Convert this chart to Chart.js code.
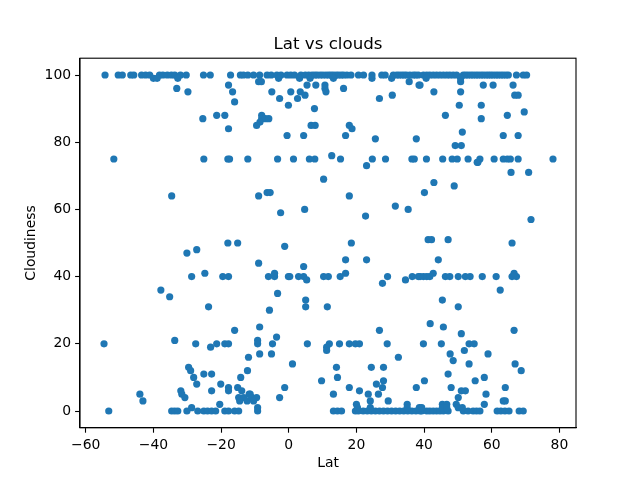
<!DOCTYPE html>
<html>
<head>
<meta charset="utf-8">
<title>Lat vs clouds</title>
<script src="https://cdn.jsdelivr.net/npm/chart.js@4"></script>
<style>
    html, body { margin: 0; padding: 0; background: #fff; }
    canvas { display: block; }
</style>
</head>
<body>
<canvas id="grafico" width="640" height="480"></canvas>
<script>
const xTicks = [-60, -40, -20, 0, 20, 40, 60, 80];
const yTicks = [0, 20, 40, 60, 80, 100];

// latitudes das cidades em cada faixa cheia de nuvens
const lat100 = [-54.3, -50.4, -49.2, -46.7, -45.8, -43.5, -42.3, -41.1, -38.2, -37.2, -35.9, -34.7, -33.7, -32, -30.3, -25.2, -23.2, -17.2, -14.3, -13.4, -12.1,
    -10.4, -8.6, -6.4, -5.2, -3.5, -2.3, -0.5, 0.6, 1.7, 3.6, 4.9, 5.9, 6.9, 7.7, 8.4, 9.3, 10.1, 11, 11.8, 12.5, 13.2, 14, 14.7, 15.5, 16.2, 17.2, 18.4, 20.6, 22.1, 24.6, 27.5, 28.5, 30.9, 31.9, 32.6, 33.4, 34.1, 34.8, 35.8, 36.8, 37.5, 38.3,
    39.8, 40.8, 41.7, 42.7, 43.7, 44.7, 45.7, 46.7, 47.6, 48.6, 49.6, 51.6, 52.3, 53, 53.8, 54.5, 55.3, 56, 56.8, 57.5, 58.3, 59, 59.7, 60.4, 61.2, 61.9, 62.7, 63.4, 64.2, 64.9, 67.3, 69.3, 70.3];
const lat75 = [-51.7, -25.1, -18, -17.5, -12.1, -3.3, 1.4, 6.1, 7.7, 15.3, 24.7, 28.6, 36.4, 37.1,
    40.7, 45.5, 48.3, 49.8, 53, 56.5, 60.7, 63.4, 64.6, 65.5, 67.8, 78.1];
const lat40 = [-28.7, -19.5, -17.8, -6, -4.2, -0.1, 0.3, 2.9, 4.4, 10.3, 11.7, 15.2, 29.2, 36.5, 38.3,
    38.8, 39.8, 40.8, 41.7, 46.3, 47.6, 50.1, 52.2, 53.6, 57.2, 61.3, 66, 67.3];
const lat20 = [-54.6, -27.5, -21.3, -18.9, -17.8, -9.2, -4.8, 5.5, 12, 15, 17.9, 19.7, 20.9, 29.1, 39.8, 45.1, 53.3, 54.8];
const lat0 = [-53.2, -34.6, -33.7, -32.8, -30.1, -26.9, -25.1, -24, -22.8, -21.6, -18.9, -17.8, -16, -14.8, -9.2, 13.2, 14.4, 15.6, 19.7, 20.6,
    22, 23.2, 24.4, 25.6, 26.8, 28, 29.2, 30.4, 31.6, 32.8, 34, 35.2, 36.4, 37.6, 38.8,
    39.3, 40.8, 41.7, 42.7, 43.7, 44.7, 45.7, 47.1, 51.6, 53, 54.5, 55.5, 56.5, 61.6, 62.7, 63.9, 65.1, 68.1, 69.3];

// demais cidades, lat e nuvens na mesma ordem
const latOutras = [-40, -38.9, -32.8, -33.1, -29.8, -17.8, -16.6, -16, -25.4, -21.3, -18.9, -17.8,
    -8.9, -8.1, -3, 3.2, 6.3, 13.2, 24.6, 30.4, 35.6, 38.5, 5.4, 8, 10.7, 10.7, 11, 16.2, -5, 0.6, 3.4, 4.8, -2.7, 2.6, -0.1, 7.6, 26.8, 30.6,
    -8, -8, -6.9, -5.9, -8.5, -9.5, 6.6, 7.8, 17.9, 18.7, 16.8, -0.5, 4.4, 25.6, 37.7, 12.7, 23, 10.3,
    40.6, 50.8, 50.8, 38.8, 57.5, 60.4, 66.3, 42.9, 50.8, 66.8, 67.8, 50.4, 56.9, 46.3, 64.6, 69.6, 56.9, 51.3, 63.4, 67.8, 49.2, 51, 55.9, 55.7, 65.7, 70.9, 42.9, 48.9, 40.1,
    31.5, 35.3, -34.6, -18, -15.1, -27.2, -30.1, -24.8, -37.8, -35.2, -8.9, -6.4, -5.5, 17.9, -2.4, 4.7, 22.7, -1.2, 18.5, 16.8, 23, -8.9, 4.4, -4.2, 16.8, 5.3, 27.7, 34.5, -3.3,
    71.6, 41.2, 42.2, 47.1, 66, 44.2, 42.7, 66.6, 62.5,
    -23.7, -16, -33.7, -23.1, -11.9, -29.6, -29, -28.1, -27.2, -25.1, -22.8, -12.2, -14.2, -20.1, -22.8, -17.8, -17.8, -15.1, -13.9, -31.9, -31.6, -30.7, -44, -43.1, -14.8, -14.5, -13.3, -12.3, -11.7, -28.7, -20.4,
    5, 5, 11.4, -5.7, -8.6, -3.6, -9.2, 11.2, 11.2, 26.8, -8.6, -5.1, 32.4, 1.1, 14.1, 24.4, 28, 14.4, 28, 9.7, 25.9, 27.7, -1.2, 17.9, 20.9, 37.7, 13.2, 26.5, 23.5, 24.1, 29.4, -2.7, -11.4, -10.9, -9.5, -10.4, -9.2, 20, 20.3, 24.1, 35, 35, 38.6,
    45.4, 50.1, 41.8, 45.7, 66.6, 51, 51.9, 47.7, 58.9, 48.6, 53.3, 66.9, 68.7, 47.1, 57.8, 40.1, 55.1, 48, 64, 51, 52.2, 58.3, 50.1, 63.4, 64, 45.4, 46.7, 49.5, 57.8, 39.3, 50.1, 51.3, 45.4, 46.7];
const nuvensOutras = [99, 99, 99, 96, 95, 97, 95, 92, 87, 88, 88, 84,
    98, 98, 99, 99, 99, 99, 99, 99, 98, 97, 97, 97, 97, 96, 95, 96, 95, 95, 95, 94, 93, 93, 91, 90, 93, 94,
    88, 87, 87, 87, 86, 85, 85, 85, 85, 84, 82, 82, 82, 81, 81, 76, 73, 69,
    99, 98, 99, 97, 97, 97, 97, 95, 95, 94, 94, 91, 91, 88, 88, 89, 87, 83, 82, 82, 79, 79, 74, 74, 71, 71, 68, 67, 65,
    61, 60, 64, 50, 50, 48, 47, 41, 36, 34, 64, 65, 65, 64, 59, 60, 58, 49, 50, 45, 45, 44, 43, 41, 41, 39, 38, 39, 35,
    57, 51, 51, 51, 50, 45, 41, 41, 36,
    31, 24, 21, 19, 16, 13, 12, 10, 8, 11, 11, 12, 10, 8, 6, 7, 6, 7, 6, 6, 5, 4, 5, 3, 4, 3, 4, 3, 5, 1, 2,
    33, 31, 31, 30, 25, 22, 21, 19, 18, 24, 17, 17, 16, 14, 13, 13, 13, 10, 9, 9, 8, 7, 7, 7, 6, 7, 5, 5, 5, 3, 3, 4, 5, 4, 4, 3, 1, 2, 1, 1, 2, 1, 1,
    33, 31, 26, 25, 24, 23, 18, 17, 17, 15, 14, 14, 12, 11, 10, 9, 9, 7, 7, 6, 6, 5, 4, 3, 3, 2, 2, 2, 2, 1, 1, 1, 1, 1];

const pontos = [];
function adicionarFaixa(lats, nuvens) {
    lats.forEach(lat => pontos.push({ x: lat, y: nuvens }));
}
adicionarFaixa(lat100, 100);
adicionarFaixa(lat75, 75);
adicionarFaixa(lat40, 40);
adicionarFaixa(lat20, 20);
adicionarFaixa(lat0, 0);
latOutras.forEach((lat, i) => pontos.push({ x: lat, y: nuvensOutras[i] }));

const FONTE = "'DejaVu Sans', sans-serif";

function rotuloTick(valor) {
    return String(valor).replace('-', '\u2212');
}

// moldura completa em volta do grafico
const moldura = {
    id: 'moldura',
    afterDraw(chart) {
        const { ctx, chartArea: a } = chart;
        ctx.save();
        ctx.strokeStyle = '#000';
        ctx.lineWidth = 1.1;
        ctx.strokeRect(a.left, a.top, a.right - a.left, a.bottom - a.top);
        ctx.restore();
    }
};

new Chart(document.getElementById('grafico'), {
    type: 'scatter',
    data: {
        datasets: [{
            data: pontos,
            backgroundColor: '#1f77b4',
            borderWidth: 0,
            pointRadius: 3.6,
            clip: false
        }]
    },
    options: {
        responsive: false,
        animation: false,
        devicePixelRatio: 1,
        layout: { padding: { top: 0, right: 64, left: 0, bottom: 0 } },
        plugins: {
            legend: { display: false },
            tooltip: { enabled: false },
            title: {
                display: true,
                fullSize: false,
                text: 'Lat vs clouds',
                color: '#000',
                font: { family: FONTE, size: 16.67, weight: 'normal' },
                padding: { top: 35, bottom: 3.2 }
            }
        },
        scales: {
            x: {
                type: 'linear',
                min: -61.7,
                max: 84.9,
                afterBuildTicks: (eixo) => { eixo.ticks = xTicks.map(v => ({ value: v })); },
                afterFit: (eixo) => { eixo.height = 52.2; },
                grid: { drawOnChartArea: false, tickLength: 4.9, tickColor: '#000', tickWidth: 1.1 },
                border: { color: '#000', width: 1.1 },
                ticks: { color: '#000', padding: 4, maxRotation: 0, font: { family: FONTE, size: 13.9 }, callback: rotuloTick },
                title: { display: true, text: 'Lat', color: '#000', padding: { top: 0, bottom: 8 }, font: { family: FONTE, size: 13.9 } }
            },
            y: {
                type: 'linear',
                min: -5,
                max: 105,
                afterBuildTicks: (eixo) => { eixo.ticks = yTicks.map(v => ({ value: v })); },
                afterFit: (eixo) => { eixo.width = 80; },
                grid: { drawOnChartArea: false, tickLength: 4.9, tickColor: '#000', tickWidth: 1.1 },
                border: { color: '#000', width: 1.1 },
                ticks: { color: '#000', padding: 4, font: { family: FONTE, size: 13.9 } },
                title: { display: true, text: 'Cloudiness', color: '#000', padding: { top: 23, bottom: 0 }, font: { family: FONTE, size: 13.9 } }
            }
        }
    },
    plugins: [moldura]
});
</script>
</body>
</html>
